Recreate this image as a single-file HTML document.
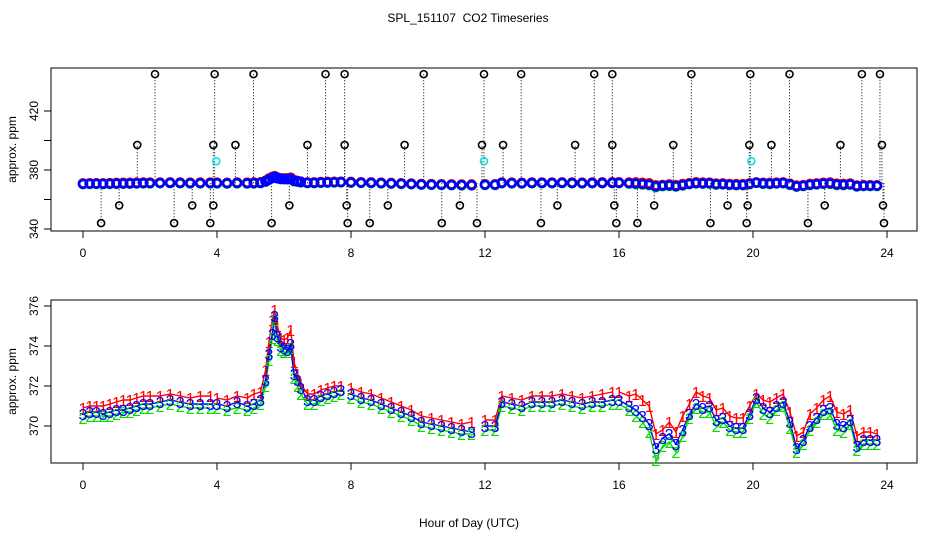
<!DOCTYPE html>
<html><head><meta charset="utf-8"><style>
body{margin:0;background:#fff}
svg{display:block;font-family:"Liberation Sans",sans-serif}
</style></head><body>
<svg id="c" width="936" height="540" viewBox="0 0 936 540">
<text x="468" y="22" font-size="12" text-anchor="middle" style="white-space:pre">SPL_151107  CO2 Timeseries</text>
<text x="469" y="527" font-size="12" text-anchor="middle">Hour of Day (UTC)</text>
<g id="top"></g>
<g id="bot"></g>
</svg>
<script>
const hours=[0,0.2,0.4,0.6,0.8,1,1.2,1.4,1.6,1.8,2,2.3,2.6,2.9,3.2,3.5,3.8,3.95,
4,4.3,4.6,4.9,5.1,5.3,5.45,5.55,5.65,5.72,5.8,5.9,6,6.1,6.2,6.3,6.4,6.5,6.7,6.9,7.1,7.3,7.5,7.7,7.85,
8,8.3,8.6,8.9,9.2,9.5,9.8,10.1,10.4,10.7,11,11.3,11.6,11.8,
12,12.3,12.5,12.8,13.1,13.4,13.7,14,14.3,14.6,14.9,15.2,15.5,15.8,15.9,
16,16.3,16.5,16.7,16.9,17.1,17.3,17.5,17.7,17.9,18.1,18.3,18.5,18.7,18.9,19.1,19.3,19.5,19.7,19.9,20.1,20.3,20.5,20.7,20.9,21.1,21.3,21.5,21.7,21.9,22.1,22.3,22.5,22.7,22.9,23.1,23.3,23.5,23.7];
const series1=[370.9,371.0,371.0,371.0,371.1,371.2,371.3,371.3,371.4,371.5,371.5,371.5,371.6,371.5,371.4,371.5,371.5,null,
371.4,371.3,371.5,371.4,371.6,371.7,372.8,374.2,375.3,375.8,375.0,374.4,374.3,374.4,374.8,373.2,372.6,372.1,371.6,371.6,371.8,371.9,372.0,372.0,null,
371.9,371.7,371.6,371.4,371.2,371.0,370.8,370.5,370.4,370.3,370.2,370.1,370.2,null,
370.3,370.3,371.5,371.4,371.3,371.5,371.5,371.5,371.6,371.5,371.4,371.5,371.6,371.7,null,
371.7,371.5,371.6,371.3,371.0,369.6,369.8,370.2,369.7,370.5,371.1,371.7,371.5,371.4,370.8,370.9,370.5,370.4,370.4,371.0,371.6,371.3,371.2,371.4,371.6,370.7,369.5,369.7,370.6,370.9,371.3,371.5,370.7,370.6,370.8,369.5,369.7,369.7,369.6];
const series2=[370.4,370.5,370.5,370.5,370.5,370.6,370.7,370.7,370.8,370.9,370.9,371.0,371.1,371.0,370.9,370.9,370.9,null,
370.9,370.8,370.9,370.8,370.9,371.1,372.0,373.3,374.4,375.3,374.3,373.8,373.7,373.7,373.9,372.4,372.0,371.6,371.1,371.1,371.3,371.4,371.5,371.6,null,
371.4,371.2,371.1,370.9,370.7,370.5,370.3,370.0,369.9,369.8,369.7,369.6,369.6,null,
369.8,369.8,371.0,370.9,370.8,371.0,371.0,371.0,371.1,371.0,370.9,371.0,371.0,371.1,null,
371.1,370.8,370.5,370.2,369.7,368.3,369.0,369.2,368.7,369.5,370.4,370.9,370.7,370.7,370.0,370.2,369.8,369.7,369.7,370.4,371.2,370.6,370.4,370.8,371.0,369.9,368.7,369.1,369.8,370.2,370.6,370.6,369.8,369.7,370.1,368.8,369.1,369.1,369.1];
const series3=[370.6,370.7,370.7,370.6,370.7,370.8,370.8,370.9,371.0,371.1,371.1,371.2,371.3,371.2,371.1,371.1,371.1,null,
371.1,371.0,371.2,371.0,371.1,371.3,372.3,373.6,374.6,375.5,374.5,374.0,373.9,373.8,374.1,372.6,372.3,371.9,371.3,371.3,371.5,371.6,371.7,371.8,null,
371.6,371.4,371.3,371.1,370.9,370.7,370.5,370.2,370.1,370.0,369.9,369.8,369.7,null,
370.0,370.0,371.2,371.1,371.0,371.2,371.2,371.2,371.3,371.2,371.1,371.2,371.2,371.3,null,
371.3,371.0,370.8,370.5,370.1,368.9,369.4,369.6,369.1,369.8,370.6,371.1,370.9,371.0,370.3,370.4,370.0,369.9,369.9,370.6,371.4,370.9,370.7,371.0,371.2,370.2,368.9,369.3,370.0,370.4,370.8,370.9,370.1,370.0,370.3,369.0,369.3,369.3,369.3];
const outlierHours=[2.15,3.93,5.09,7.24,7.81,10.17,11.97,13.08,15.26,15.80,18.16,19.92,21.09,23.25,23.79,
1.62,3.89,4.55,6.70,7.81,9.60,11.91,12.54,14.69,15.80,17.62,19.89,20.55,22.61,23.85,
1.08,3.26,3.89,6.16,7.87,9.10,11.25,14.16,15.86,17.05,19.24,19.84,22.14,23.88,
0.54,2.72,3.80,5.63,7.90,8.56,10.71,11.76,13.67,15.92,16.55,18.73,19.81,21.64,23.91];
const outlierValues=[445,445,445,445,445,445,445,445,445,445,445,445,445,445,445,
397,397,397,397,397,397,397,397,397,397,397,397,397,397,397,
356,356,356,356,356,356,356,356,356,356,356,356,356,356,
344,344,344,344,344,344,344,344,344,344,344,344,344,344,344];
const cyanHours=[3.98,11.97,19.95];
const cyanValues=[386,386,386];
const xTicks=[0,4,8,12,16,20,24];
const topYTicks=[340,360,380,400,420];
const topYLabels=[340,380,420];
const botYTicks=[370,372,374,376];

const NS="http://www.w3.org/2000/svg";
function mk(p,tag,at){const e=document.createElementNS(NS,tag);for(const k in at)e.setAttribute(k,at[k]);p.appendChild(e);return e;}
const xs=h=>83+h*(804/24);
const yTop=v=>229-(v-340)*1.475;
const yBot=v=>426-(v-370)*20;
const cols=['#ff0000','#00dd00','#0000ff'];
const all=[series1,series2,series3];

function frame(g,top,bot,yfun,ticks,labels,name){
  const r=mk(g,'rect',{x:51,y:top,width:866,height:bot-top,fill:'none',stroke:'#000'});
  
  
  mk(g,'line',{x1:xs(0),x2:xs(24),y1:bot,y2:bot,stroke:'#000'});
  xTicks.forEach(t=>{
    mk(g,'line',{x1:xs(t),x2:xs(t),y1:bot,y2:bot+7,stroke:'#000'});
    const tx=mk(g,'text',{x:xs(t),y:bot+26,'font-size':12,'text-anchor':'middle'});
    tx.textContent=t;
    
    
  });
  ticks.forEach(t=>{
    const y=yfun(t);
    mk(g,'line',{x1:44,x2:51,y1:y,y2:y,stroke:'#000'});
    if(labels.includes(t)){
      const tx=mk(g,'text',{x:0,y:0,'font-size':12,'text-anchor':'middle',transform:`translate(38,${y}) rotate(-90)`});
      tx.textContent=t;
      
      
    }
  });
  const yl=mk(g,'text',{x:0,y:0,'font-size':12,'text-anchor':'middle',transform:`translate(16,${(top+bot)/2}) rotate(-90)`});
  yl.textContent='approx. ppm';
  
  
}

const T=document.getElementById('top');
const B=document.getElementById('bot');
frame(T,68,231,yTop,topYTicks,topYLabels,'top');
frame(B,300,463,yBot,botYTicks,botYTicks,'bottom');

outlierHours.forEach((h,i)=>{
  const x=xs(h);
  mk(T,'line',{x1:x,x2:x,y1:yTop(371),y2:yTop(outlierValues[i]),stroke:'#000','stroke-dasharray':'1,2'});
  const c=mk(T,'circle',{cx:x,cy:yTop(outlierValues[i]),r:3.5,fill:'none',stroke:'#000','stroke-width':1.6});
  
  
});
cyanHours.forEach((h,i)=>{
  const c=mk(T,'circle',{cx:xs(h),cy:yTop(cyanValues[i]),r:3.5,fill:'none',stroke:'#00e5e5','stroke-width':1.6});
  
  
});
all.forEach((s,k)=>{
  s.forEach((v,i)=>{
    if(v===null)return;
    const c=mk(T,'circle',{cx:xs(hours[i]),cy:yTop(v),r:4,fill:'none',stroke:cols[k],'stroke-width':2.6});
    
    
  });
});

all.forEach((s,k)=>{
  let d='',pen=false;
  s.forEach((v,i)=>{
    if(v===null){pen=false;return;}
    d+=(pen?'L':'M')+xs(hours[i]).toFixed(1)+' '+yBot(v).toFixed(1);pen=true;
  });
  const p=mk(B,'path',{d:d,fill:'none',stroke:cols[k],'stroke-width':1.4});
  
  
});
all.forEach((s,k)=>{
  s.forEach((v,i)=>{
    if(v===null)return;
    const t=mk(B,'text',{x:xs(hours[i]),y:yBot(v)+6,'font-size':16,'text-anchor':'middle',fill:cols[k]});
    t.textContent=String(k+1);
    
    
  });
});
</script>
</body></html>
